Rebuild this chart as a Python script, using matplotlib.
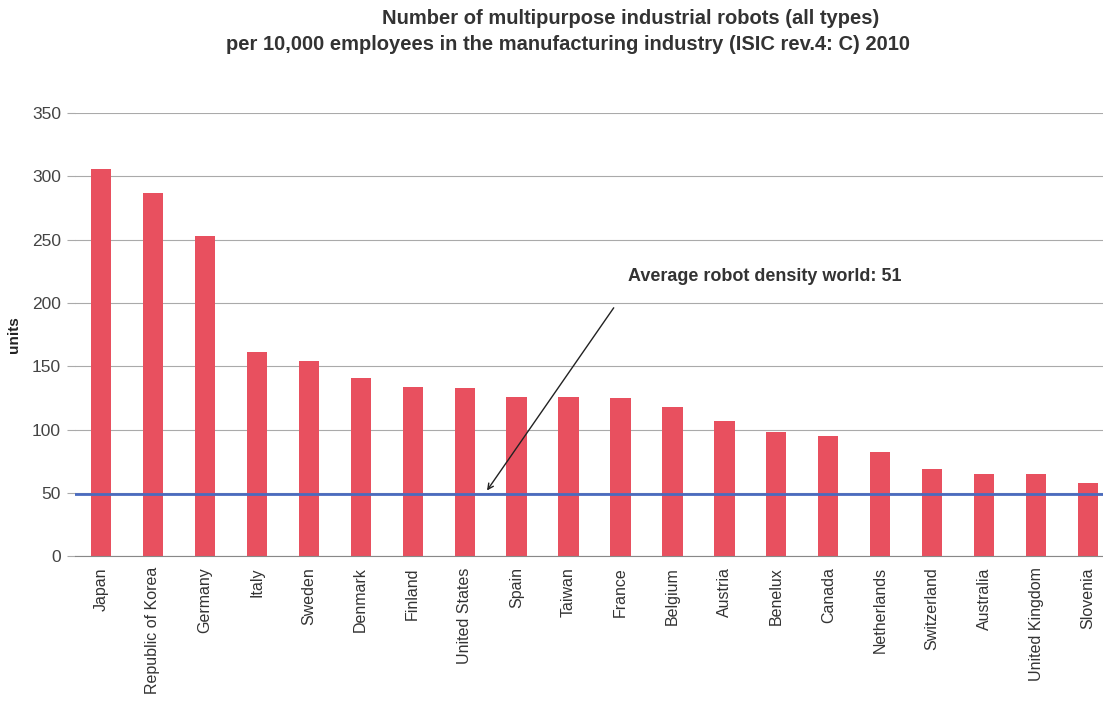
import matplotlib.pyplot as plt

plt.rcParams['font.family'] = ['Liberation Sans', 'DejaVu Sans']

countries = ['Japan', 'Republic of Korea', 'Germany', 'Italy', 'Sweden', 'Denmark',
             'Finland', 'United States', 'Spain', 'Taiwan', 'France', 'Belgium',
             'Austria', 'Benelux', 'Canada', 'Netherlands', 'Switzerland',
             'Australia', 'United Kingdom', 'Slovenia']
robots = [306, 287, 253, 161, 154, 141, 134, 133, 126, 126, 125, 118,
          107, 98, 95, 82, 69, 65, 65, 58]
world_avg = 51
yticks = [0, 50, 100, 150, 200, 250, 300, 350]

fig = plt.figure(figsize=(11.03, 7.03), dpi=100)
ax = fig.add_axes([0.068, 0.209, 0.942, 0.630])

x = range(len(countries))
ax.bar(x, robots, width=0.39, color='#e8505f', zorder=2)
ax.axhline(world_avg - 2, color='#4a6bbf', lw=2, zorder=3)

ax.set_xlim(-0.5, len(countries) - 0.5)
ax.set_ylim(0, 350)
ax.set_yticks(yticks)
ax.set_xticks(list(x))
ax.set_xticklabels(countries, rotation=90, fontsize=11.5, color='#333333')
ax.tick_params(axis='x', length=0, pad=8)
ax.tick_params(axis='y', length=6, color='#aaaaaa', labelsize=12.5, labelcolor='#444444', pad=4)
ax.grid(axis='y', color='#aaaaaa', lw=0.8, zorder=1)
for s in ['top', 'right', 'left']:
    ax.spines[s].set_visible(False)
ax.spines['bottom'].set_color('#888888')

ax.set_ylabel('units', fontsize=11, fontweight='bold', labelpad=8, color='#222222')

# two title lines, slightly offset like the scanned original
fig.text(0.572, 0.974, 'Number of multipurpose industrial robots (all types)',
         ha='center', va='center', fontsize=14.5, fontweight='bold', color='#333333')
fig.text(0.515, 0.936, 'per 10,000 employees in the manufacturing industry (ISIC rev.4: C) 2010',
         ha='center', va='center', fontsize=14.5, fontweight='bold', color='#333333')

ax.text(10.15, 221, 'Average robot density world: 51', fontsize=13,
        fontweight='bold', color='#333333', va='center', ha='left')
ax.annotate('', xy=(7.4, world_avg - 1), xytext=(9.9, 198),
            arrowprops=dict(arrowstyle='->', color='#222222', lw=1))

fig.savefig('out.png', dpi=100)
